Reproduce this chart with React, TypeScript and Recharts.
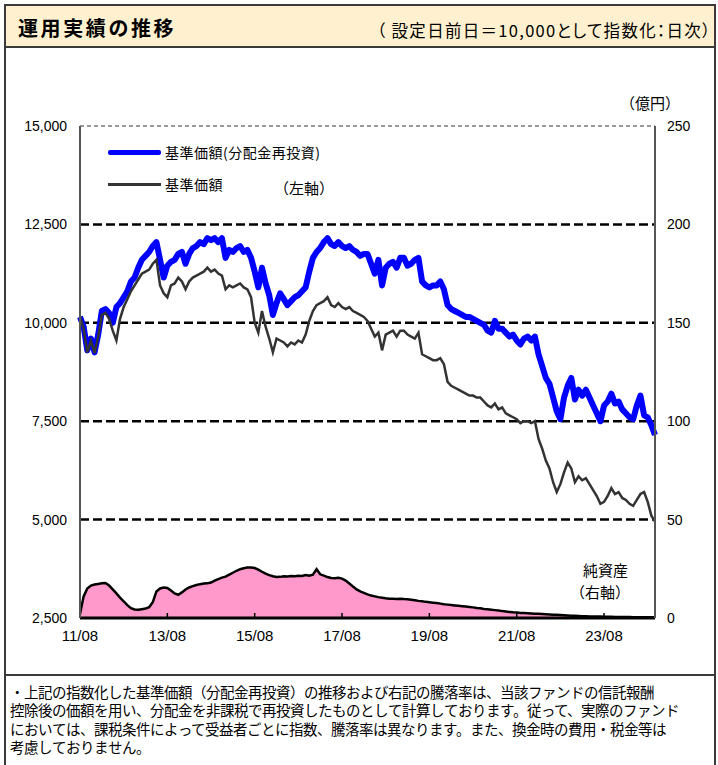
import React from 'react';
import { ComposedChart, Line, Area, XAxis, YAxis, ReferenceLine } from 'recharts';

// Monthly observations starting 2011/08 (index 0) to 2024/10 (index 158)
const reinvestedNav = [
  10150, 9900, 9300, 9600, 9250, 9700, 10300, 10350, 10250, 10000,
  10400, 10500, 10650, 10800, 11050, 11150, 11400, 11600, 11700, 11800,
  11950, 12050, 11600, 11150, 11450, 11550, 11600, 11750, 11800, 11500,
  11750, 11900, 11950, 12050, 12000, 12150, 12100, 12150, 12050, 12150,
  11650, 11850, 11800, 11900, 11950, 11800, 11850, 11650, 11300, 10900,
  11400, 11000, 10700, 10200, 10500, 10750, 10600, 10450, 10550, 10650,
  10700, 10800, 10900, 11300, 11650, 11800, 11900, 12050, 12150, 12000,
  11950, 12050, 11950, 11900, 11950, 11850, 11800, 11700, 11750, 11750,
  11500, 11250, 11600, 10950, 11400, 11500, 11550, 11400, 11650, 11650,
  11450, 11500, 11600, 11650, 11050, 10950, 10900, 10950, 10950, 11050,
  10850, 10450, 10350, 10300, 10250, 10200, 10150, 10150, 10100, 10050,
  10000, 9950, 9800, 9750, 10050, 9850, 9850, 9750, 9650, 9700,
  9550, 9450, 9600, 9650, 9550, 9650, 9200, 8900, 8600, 8450,
  8100, 7750, 7550, 8100, 8400, 8600, 8050, 8300, 8150, 8300,
  8100, 7900, 7700, 7500, 7900, 8000, 8200, 7950, 8000, 7800,
  7700, 7600, 7550, 7900, 8150, 7650, 7600, 7400, 7150,
];

const baseNav = [
  10150, 9850, 9250, 9550, 9230, 9650, 10200, 10250, 10100, 9800,
  9550, 10100, 10400, 10600, 10800, 10950, 11100, 11250, 11300, 11350,
  11500, 11600, 10950, 10750, 10650, 10950, 11000, 11150, 11050, 10850,
  11050, 11150, 11200, 11250, 11300, 11400, 11300, 11350, 11250, 11200,
  10850, 10950, 10900, 10950, 11000, 10900, 10850, 10650, 10000, 9750,
  10300, 9900, 9600, 9250, 9600, 9550, 9500, 9400, 9500, 9450,
  9550, 9500, 9700, 10050, 10300, 10450, 10500, 10550, 10650, 10450,
  10400, 10500, 10400, 10350, 10400, 10300, 10250, 10200, 10150, 10050,
  9850, 9650, 9750, 9300, 9700, 9750, 9800, 9650, 9800, 9800,
  9700, 9650, 9600, 9750, 9200, 9150, 9100, 9050, 9050, 9100,
  8950, 8500, 8400, 8350, 8300, 8250, 8200, 8150, 8150, 8100,
  8100, 8000, 7900, 7850, 7950, 7800, 7850, 7700, 7650, 7600,
  7550, 7450, 7500, 7500, 7450, 7500, 7050, 6800, 6500, 6300,
  5950, 5700, 5900, 6200, 6450, 6300, 5950, 6100, 6000, 6050,
  5900, 5750, 5600, 5400, 5450, 5600, 5800, 5650, 5700, 5550,
  5500, 5400, 5350, 5500, 5650, 5700, 5450, 5100, 4950,
];

const netAssets = [
  2, 11, 15, 16.5, 17, 17.3, 17.6, 17.8, 16.5, 14.5,
  12.5, 10.4, 8.5, 6.5, 5, 4.3, 4.2, 4.5, 4.8, 5.5,
  8, 13.5, 15, 15.5, 15.3, 14, 12.5, 11.8, 13, 14.5,
  15.5, 16.2, 16.8, 17.2, 17.5, 17.6, 18, 19, 19.8, 20.5,
  21, 22, 23, 24, 24.8, 25.3, 25.6, 25.7, 25.4, 24.6,
  23.5, 22.5, 21.8, 21.2, 20.8, 20.9, 21.2, 21.1, 21.3, 21.2,
  21.5, 21.4, 21.8, 21.5, 22, 24.8, 22.2, 21.5, 20.8, 20.3,
  20.2, 20.4, 20, 19, 17.5, 16, 14.5, 13.5, 12.8, 12,
  11.4, 11, 10.6, 10.3, 10, 9.8, 9.8, 9.7, 9.8, 9.6,
  9.5, 9.3, 9, 8.7, 8.5, 8.2, 8, 7.8, 7.6, 7.3,
  7, 6.8, 6.6, 6.4, 6.2, 6, 5.8, 5.6, 5.4, 5.1,
  4.9, 4.6, 4.4, 4.2, 4, 3.8, 3.5, 3.3, 3.1, 2.9,
  2.8, 2.6, 2.5, 2.4, 2.3, 2.2, 2.1, 2.0, 1.9, 1.8,
  1.7, 1.6, 1.5, 1.4, 1.3, 1.2, 1.1, 1.0, 0.9, 0.9,
  0.8, 0.8, 0.7, 0.7, 0.6, 0.6, 0.6, 0.5, 0.5, 0.5,
  0.5, 0.5, 0.4, 0.4, 0.4, 0.4, 0.4, 0.4, 0.4,
];

const leftTicks = [2500, 5000, 7500, 10000, 12500, 15000];
const rightTicks = [0, 50, 100, 150, 200, 250];
const gridLevels = [5000, 7500, 10000, 12500];
const xTicks = [0, 24, 48, 72, 96, 120, 144];
const xTickLabels = ['11/08', '13/08', '15/08', '17/08', '19/08', '21/08', '23/08'];
const noteLines = [
  '・上記の指数化した基準価額（分配金再投資）の推移および右記の騰落率は、当該ファンドの信託報酬',
  '控除後の価額を用い、分配金を非課税で再投資したものとして計算しております。従って、実際のファンド',
  'においては、課税条件によって受益者ごとに指数、騰落率は異なります。また、換金時の費用・税金等は',
  '考慮しておりません。',
];

const data = reinvestedNav.map((v, i) => ({
  m: i,
  reinvested: v,
  nav: baseNav[i],
  assets: netAssets[i],
}));

const JP = '"Noto Sans CJK JP", "Noto Sans", sans-serif';
const JP_TIGHT = '"JPTight", "Noto Sans CJK JP", "Noto Sans", sans-serif';
const LAT = '"Liberation Sans", Arial, sans-serif';

const fontCss = `
@font-face {
  font-family: "JPTight";
  src: local("Noto Sans CJK JP Regular"), local("NotoSansCJKjp-Regular"), local("Noto Sans CJK JP");
  ascent-override: 95%;
  descent-override: 25%;
  line-gap-override: 0%;
}
`;

const XTick = (props: any) => {
  const { x, y, payload } = props;
  const idx = xTicks.indexOf(payload.value);
  const axisY = y - 10;
  return (
    <g>
      {payload.value !== 0 && (
        <line x1={x} x2={x} y1={axisY} y2={axisY - 5} stroke="#000" strokeWidth={1.5} />
      )}
      <text x={x} y={axisY + 23} textAnchor="middle" fontSize={15} fontFamily={LAT} fill="#000">
        {xTickLabels[idx]}
      </text>
    </g>
  );
};

const abs = (s: React.CSSProperties): React.CSSProperties => ({ position: 'absolute', ...s });

export default function App() {
  return (
    <div style={abs({ left: 0, top: 0, width: 718, height: 765, overflow: 'hidden', background: '#fff' })}>
      <style>{fontCss}</style>
      {/* outer frame */}
      <div style={abs({ left: 4, top: 4, width: 708, height: 800, border: '2px solid #3a3a3a' })} />
      {/* header */}
      <div style={abs({ left: 6, top: 6, width: 708, height: 40, background: '#FFF1CF', borderBottom: '2px solid #3a3a3a' })} />
      <div style={abs({ left: 18, top: 14, fontFamily: JP, fontWeight: 700, fontSize: 20, letterSpacing: 2.6, lineHeight: '28px', color: '#000', whiteSpace: 'nowrap' })}>
        運用実績の推移
      </div>
      <div style={abs({ left: 377, top: 16, fontFamily: JP, fontSize: 16.5, letterSpacing: 1.3, fontFeatureSettings: '"palt"', lineHeight: '28px', color: '#000', whiteSpace: 'nowrap' })}>
        （ 設定日前日＝10,000として指数化：日次）
      </div>
      <div style={abs({ left: 620, top: 91, fontFamily: JP, fontSize: 15, lineHeight: '24px', color: '#000', whiteSpace: 'nowrap' })}>
        （億円）
      </div>
      {/* separator */}
      <div style={abs({ left: 6, top: 674, width: 708, height: 2, background: '#3a3a3a' })} />
      {noteLines.map((t, i) => (
        <div
          key={i}
          style={abs({
            left: 10,
            top: 684 + i * 18.4,
            height: 18,
            fontFamily: JP_TIGHT,
            fontSize: 14.5,
            lineHeight: '18px',
            color: '#000',
            whiteSpace: 'nowrap',
          })}
        >
          {t}
        </div>
      ))}

      <div style={abs({ left: 0, top: 0 })}>
        <ComposedChart
          width={718}
          height={765}
          data={data}
          margin={{ top: 126, right: 13, bottom: 117, left: 20 }}
        >
          <XAxis
            dataKey="m"
            type="number"
            domain={[0, 158]}
            ticks={xTicks}
            interval={0}
            height={30}
            tickLine={false}
            tickSize={6}
            tickMargin={4}
            axisLine={{ stroke: '#000', strokeWidth: 3 }}
            tick={<XTick />}
          />
          <YAxis
            yAxisId="left"
            orientation="left"
            width={60}
            domain={[2500, 15000]}
            ticks={leftTicks}
            interval={0}
            tickLine={false}
            tickSize={6}
            tickMargin={7}
            axisLine={{ stroke: '#555', strokeWidth: 2 }}
            tick={{ fill: '#000', fontSize: 14, fontFamily: LAT }}
            tickFormatter={(v: number) => v.toLocaleString('en-US')}
          />
          <YAxis
            yAxisId="right"
            orientation="right"
            width={50}
            domain={[0, 250]}
            ticks={rightTicks}
            interval={0}
            tickLine={false}
            tickSize={6}
            tickMargin={6}
            axisLine={{ stroke: '#555', strokeWidth: 2 }}
            tick={{ fill: '#000', fontSize: 14, fontFamily: LAT, textAnchor: 'start' }}
          />
          <ReferenceLine yAxisId="left" y={15000} stroke="#9a9a9a" strokeWidth={2} strokeDasharray="4 3" />
          {gridLevels.map((g) => (
            <ReferenceLine key={g} yAxisId="left" y={g} stroke="#000" strokeWidth={2.5} strokeDasharray="9 4" />
          ))}
          <Area
            yAxisId="right"
            dataKey="assets"
            type="linear"
            stroke="#000"
            strokeWidth={2.5}
            fill="#FF99CC"
            fillOpacity={1}
            baseValue={0}
            isAnimationActive={false}
            dot={false}
            activeDot={false}
          />
          <Line
            yAxisId="left"
            dataKey="reinvested"
            type="linear"
            stroke="#0000FF"
            strokeWidth={6}
            strokeLinejoin="round"
            dot={false}
            activeDot={false}
            isAnimationActive={false}
          />
          <Line
            yAxisId="left"
            dataKey="nav"
            type="linear"
            stroke="#333333"
            strokeWidth={2.5}
            dot={false}
            activeDot={false}
            isAnimationActive={false}
          />
        </ComposedChart>
      </div>

      {/* legend */}
      <div style={abs({ left: 108, top: 149.5, width: 53, height: 5, background: '#0000FF', borderRadius: 2 })} />
      <div style={abs({ left: 165, top: 140, fontFamily: JP, fontSize: 14, letterSpacing: 0.5, lineHeight: '24px', color: '#000', whiteSpace: 'nowrap' })}>
        基準価額(分配金再投資)
      </div>
      <div style={abs({ left: 108, top: 183, width: 53, height: 2.5, background: '#333' })} />
      <div style={abs({ left: 165, top: 172, fontFamily: JP, fontSize: 14, letterSpacing: 0.5, lineHeight: '24px', color: '#000', whiteSpace: 'nowrap' })}>
        基準価額
      </div>
      <div style={abs({ left: 274, top: 176, fontFamily: JP, fontSize: 15, lineHeight: '24px', color: '#000', whiteSpace: 'nowrap' })}>
        （左軸）
      </div>
      <div style={abs({ left: 583, top: 558, fontFamily: JP, fontSize: 15, lineHeight: '24px', color: '#000', whiteSpace: 'nowrap' })}>
        純資産
      </div>
      <div style={abs({ left: 570, top: 580, fontFamily: JP, fontSize: 15, lineHeight: '24px', color: '#000', whiteSpace: 'nowrap' })}>
        （右軸）
      </div>
    </div>
  );
}
